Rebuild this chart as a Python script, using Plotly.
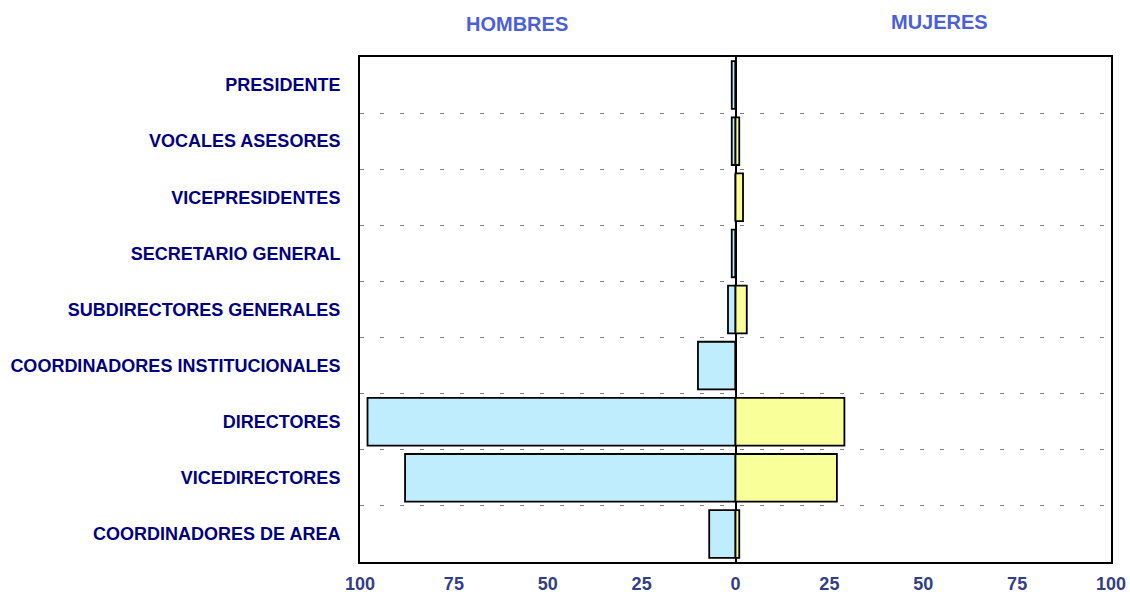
import plotly.graph_objects as go

categorias = [
    "PRESIDENTE",
    "VOCALES ASESORES",
    "VICEPRESIDENTES",
    "SECRETARIO GENERAL",
    "SUBDIRECTORES GENERALES",
    "COORDINADORES INSTITUCIONALES",
    "DIRECTORES",
    "VICEDIRECTORES",
    "COORDINADORES DE AREA",
]
hombres = [1, 1, 0, 1, 2, 10, 98, 88, 7]
mujeres = [0, 1, 2, 0, 3, 0, 29, 27, 1]

ticks_x = [-100, -75, -50, -25, 0, 25, 50, 75, 100]

FUENTE = "Arial, Liberation Sans, sans-serif"
AZUL = "#BFEDFD"
AMARILLO = "#F9FF99"

pos = list(range(len(categorias)))

fig = go.Figure()

# Hombres a la izquierda (valores negativos)
fig.add_trace(go.Bar(
    y=pos,
    x=[-v for v in hombres],
    orientation="h",
    name="Hombres",
    marker=dict(color=AZUL, line=dict(color="black", width=1.8)),
))

# Mujeres a la derecha
fig.add_trace(go.Bar(
    y=pos,
    x=mujeres,
    orientation="h",
    name="Mujeres",
    marker=dict(color=AMARILLO, line=dict(color="black", width=1.8)),
))

fig.update_layout(
    width=1130,
    height=594,
    margin=dict(l=360, r=19, t=57, b=32),
    barmode="relative",
    bargap=0.15,
    showlegend=False,
    plot_bgcolor="white",
    paper_bgcolor="white",
    font=dict(family=FUENTE),
)

fig.update_xaxes(
    range=[-100, 100],
    tickvals=ticks_x,
    ticktext=[str(abs(v)) for v in ticks_x],
    tickfont=dict(size=18, color="#323E86", family=FUENTE, weight="bold"),
    showgrid=False,
    zeroline=True,
    zerolinecolor="black",
    zerolinewidth=2,
    showline=True,
    linecolor="black",
    linewidth=2,
    mirror=True,
    ticks="",
    ticklabelstandoff=4,
    automargin=False,
    layer="above traces",
)

fig.update_yaxes(
    range=[len(categorias) - 0.5, -0.5],
    tickvals=pos,
    ticktext=categorias,
    tickfont=dict(size=18, color="#000080", family=FUENTE, weight="bold"),
    showgrid=False,
    zeroline=False,
    showline=True,
    linecolor="black",
    linewidth=2,
    mirror=True,
    ticks="",
    ticklabelstandoff=14,
    automargin=False,
    minor=dict(
        tickvals=[p + 0.5 for p in pos[:-1]],
        showgrid=True,
        gridcolor="#808080",
        gridwidth=1,
        griddash="4px,16px",
        ticks="",
    ),
)

fig.add_annotation(
    text="<b>HOMBRES</b>", xref="paper", yref="paper",
    x=0.209, y=1.066, xanchor="center", yanchor="middle", showarrow=False,
    font=dict(size=20, color="#4D5FD8", family=FUENTE),
)
fig.add_annotation(
    text="<b>MUJERES</b>", xref="paper", yref="paper",
    x=0.772, y=1.07, xanchor="center", yanchor="middle", showarrow=False,
    font=dict(size=20, color="#4D5FD8", family=FUENTE),
)

# sin el margen por defecto del body la figura ocupa la ventana exacta
fig.write_html(
    "out.html",
    config={"displayModeBar": False},
    post_script="document.body.style.margin='0';",
)
